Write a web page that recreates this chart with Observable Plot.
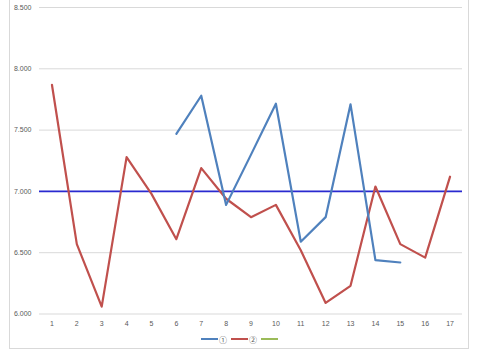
<!DOCTYPE html>
<html><head><meta charset="utf-8">
<script src="https://cdn.jsdelivr.net/npm/d3@7"></script>
<script src="https://cdn.jsdelivr.net/npm/@observablehq/plot@0.6"></script>
<style>
body{margin:0;background:#fff;}
#wrap{position:relative;width:480px;height:357px;overflow:hidden;font-family:"Liberation Sans",Arial,sans-serif;}
#frame{position:absolute;left:9px;top:-1px;width:460px;height:350px;border:1px solid #d9d9d9;box-sizing:border-box;}
#chart{position:absolute;left:0;top:0;}
#legend{position:absolute;left:0;top:333px;width:480px;height:12px;display:flex;justify-content:center;align-items:center;font-family:"Noto Sans CJK JP","DejaVu Sans",sans-serif;font-size:8px;color:#595959;}
.item{display:flex;align-items:center;margin:0 2px;}
.sw{display:inline-block;width:17px;height:2px;margin-right:1px;}
</style></head>
<body><div id="wrap"><div id="frame"></div><div id="chart"></div><div id="legend"></div></div>
<script>
const categories = ["1","2","3","4","5","6","7","8","9","10","11","12","13","14","15","16","17"];
const series1 = [null,null,null,null,null,7.47,7.78,6.89,7.30,7.715,6.59,6.79,7.71,6.44,6.42,null,null];
const series2 = [7.87,6.57,6.06,7.28,6.98,6.61,7.19,6.94,6.79,6.89,6.52,6.09,6.23,7.04,6.57,6.46,7.12];
const series3 = [];
const seriesNames = ["①","②",""];
const seriesColors = ["#4F81BD","#C0504D","#9BBB59"];
const referenceValue = [7.0];
const yTicks = [6.0,6.5,7.0,7.5,8.0,8.5];

const d1 = categories.map((c,i)=>({x:c,y:series1[i]}));
const d2 = categories.map((c,i)=>({x:c,y:series2[i]}));
const d3s = series3.map((v,i)=>({x:categories[i],y:v}));

const plot = Plot.plot({
  width:480, height:333,
  marginLeft:39, marginRight:18, marginTop:7, marginBottom:19.5,
  style:{fontFamily:"Liberation Sans, Arial, sans-serif", fontSize:"7px", color:"#595959", background:"transparent"},
  x:{type:"band", domain:categories, padding:0, round:false, label:null},
  y:{domain:[6,8.5], ticks:yTicks, label:null, tickFormat:d3.format(".3f")},
  marks:[
    Plot.gridY(yTicks,{stroke:"#d9d9d9", strokeOpacity:1, strokeWidth:1}),
    Plot.axisY(yTicks,{tickSize:0, tickPadding:8, tickFormat:d3.format(".3f"), fill:"#595959", label:null}),
    Plot.axisX({tickSize:0, tickPadding:7, fill:"#595959", label:null}),
    Plot.ruleY(referenceValue,{stroke:"#2a2ad0", strokeWidth:1.6}),
    Plot.line(d2,{x:"x", y:"y", stroke:seriesColors[1], strokeWidth:2.2, defined:d=>d.y!=null}),
    Plot.line(d1,{x:"x", y:"y", stroke:seriesColors[0], strokeWidth:2.2, defined:d=>d.y!=null}),
    Plot.line(d3s,{x:"x", y:"y", stroke:seriesColors[2], strokeWidth:2.2})
  ]
});
document.getElementById("chart").appendChild(plot);

const leg = document.getElementById("legend");
seriesNames.forEach((n,i)=>{
  const it=document.createElement("span"); it.className="item";
  const sw=document.createElement("span"); sw.className="sw"; sw.style.background=seriesColors[i];
  it.appendChild(sw);
  if(n){const t=document.createElement("span"); t.textContent=n; it.appendChild(t);}
  leg.appendChild(it);
});
</script></body></html>
